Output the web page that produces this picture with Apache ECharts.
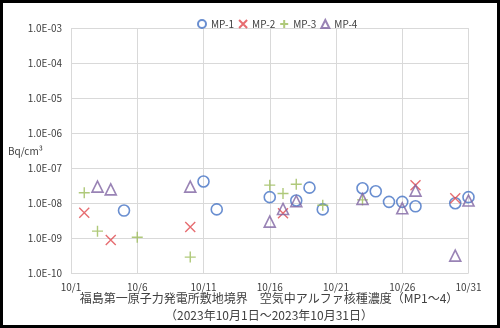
<!DOCTYPE html>
<html><head><meta charset="utf-8">
<script src="https://cdn.jsdelivr.net/npm/echarts@6/dist/echarts.min.js"></script>
<style>html,body{margin:0;padding:0;background:#fff}#c{width:500px;height:328px}</style>
</head><body><div id="c"></div>
<script>
const seriesNames = ['MP-1','MP-2','MP-3','MP-4'];
const mp1Dates = ['10/5','10/11','10/12','10/16','10/18','10/19','10/20','10/23','10/24','10/25','10/26','10/27','10/30','10/31'];
const mp1Values = [6.2e-9,4.2e-8,6.7e-9,1.5e-8,1.2e-8,2.8e-8,6.7e-9,2.7e-8,2.2e-8,1.1e-8,1.1e-8,8.2e-9,1.0e-8,1.5e-8];
const mp2Dates = ['10/2','10/4','10/10','10/17','10/27','10/30'];
const mp2Values = [5.4e-9,8.9e-10,2.1e-9,5.2e-9,3.3e-8,1.4e-8];
const mp3Dates = ['10/2','10/3','10/6','10/10','10/16','10/17','10/18','10/20','10/23'];
const mp3Values = [2.0e-8,1.6e-9,1.07e-9,2.9e-10,3.3e-8,1.9e-8,3.5e-8,8.8e-9,1.25e-8];
const mp4Dates = ['10/3','10/4','10/10','10/16','10/17','10/18','10/23','10/26','10/27','10/30','10/31'];
const mp4Values = [3.0e-8,2.5e-8,3.0e-8,3.0e-9,6.9e-9,1.15e-8,1.33e-8,7.2e-9,2.3e-8,3.2e-10,1.2e-8];
const xTickLabels = ['10/1','10/6','10/11','10/16','10/21','10/26','10/31'];
const yTickLabels = ['1.0E-10','1.0E-09','1.0E-08','1.0E-07','1.0E-06','1.0E-05','1.0E-04','1.0E-03'];
const titleLines = ['福島第一原子力発電所敷地境界\u3000空気中アルファ核種濃度（MP1～4）','（2023年10月1日～2023年10月31日）'];
const yUnit = 'Bq/cm³';

function dayIdx(s){ return parseInt(s.split('/')[1],10) - 1; }
function pairs(d,v){ return d.map((s,i)=>[dayIdx(s), v[i]]); }
function fmtExp(v){
  const e = Math.round(Math.log10(v));
  const idx = e + 10;
  return yTickLabels[idx] !== undefined ? yTickLabels[idx] : '';
}
const crossPath = 'path://M0,0L10,10M10,0L0,10';
const plusPath = 'path://M5,0L5,10M0,5L10,5';
const font = '"Noto Sans CJK JP", "Noto Sans", sans-serif';

const chart = echarts.init(document.getElementById('c'), null, {renderer:'canvas'});
chart.setOption({
  animation:false,
  backgroundColor:'#fff',
  grid:{left:71, right:31.5, top:28.3, bottom:54.7, containLabel:false},
  legend:{
    top:14, left:192, itemWidth:8, itemHeight:8, itemGap:4,
    textStyle:{fontSize:10, color:'#404040', fontFamily:font},
    data:seriesNames
  },
  xAxis:{
    type:'value', min:0, max:30, interval:5,
    axisLine:{show:false}, axisTick:{show:false},
    splitLine:{show:true, lineStyle:{color:'#D9D9D9', width:1}},
    axisLabel:{color:'#404040', fontSize:10, margin:9, fontFamily:font,
      formatter:(v)=>xTickLabels[Math.round(v/5)] || ''}
  },
  yAxis:{
    type:'log', logBase:10, min:1e-10, max:1e-3,
    axisLine:{show:false}, axisTick:{show:false},
    splitLine:{show:true, lineStyle:{color:'#D9D9D9', width:1}},
    axisLabel:{color:'#404040', fontSize:10, margin:9, fontFamily:font, formatter:fmtExp}
  },
  graphic:[
    {type:'text', left:8, top:146, style:{text:yUnit, fontSize:10, fill:'#404040', fontFamily:font}},
    {type:'text', x:269, y:298.5, style:{text:titleLines[0], fontSize:12, fill:'#404040', fontFamily:font, textAlign:'center', textVerticalAlign:'middle'}},
    {type:'text', x:269, y:315, style:{text:titleLines[1], fontSize:12, fill:'#404040', fontFamily:font, textAlign:'center', textVerticalAlign:'middle'}},
    {type:'rect', shape:{x:0,y:0,width:500,height:328}, style:{fill:'none', stroke:'#000', lineWidth:6}, z:100}
  ],
  series:[
    {name:seriesNames[0], type:'scatter', symbol:'circle', symbolSize:11,
      itemStyle:{color:'rgba(255,255,255,0)', borderColor:'#4472C4', borderWidth:1.6},
      data:pairs(mp1Dates, mp1Values)},
    {name:seriesNames[1], type:'scatter', symbol:crossPath, symbolSize:10,
      itemStyle:{color:'rgba(0,0,0,0)', borderColor:'#E0474C', borderWidth:1.4},
      data:pairs(mp2Dates, mp2Values)},
    {name:seriesNames[2], type:'scatter', symbol:plusPath, symbolSize:11,
      itemStyle:{color:'rgba(0,0,0,0)', borderColor:'#9BBB59', borderWidth:1.4},
      data:pairs(mp3Dates, mp3Values)},
    {name:seriesNames[3], type:'scatter', symbol:'triangle', symbolSize:11,
      itemStyle:{color:'rgba(255,255,255,0)', borderColor:'#8064A2', borderWidth:1.6},
      data:pairs(mp4Dates, mp4Values)}
  ]
});
</script></body></html>
